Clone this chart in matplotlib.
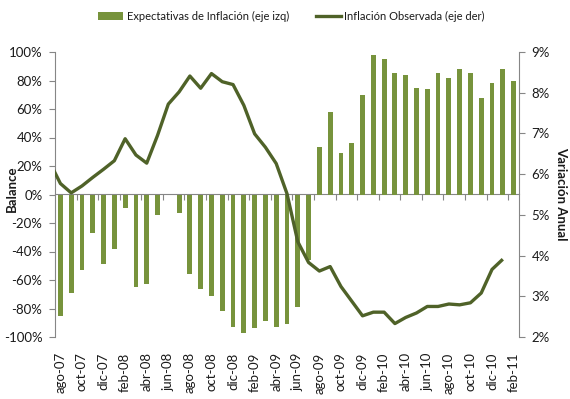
import numpy as np
import matplotlib
matplotlib.use("Agg")
import matplotlib.pyplot as plt
from matplotlib.patches import Patch
from matplotlib.lines import Line2D
from matplotlib.ticker import FuncFormatter, FixedLocator

# Months from jul-07 to feb-11
meses = ["jul-07", "ago-07", "sep-07", "oct-07", "nov-07", "dic-07",
         "ene-08", "feb-08", "mar-08", "abr-08", "may-08", "jun-08",
         "jul-08", "ago-08", "sep-08", "oct-08", "nov-08", "dic-08",
         "ene-09", "feb-09", "mar-09", "abr-09", "may-09", "jun-09",
         "jul-09", "ago-09", "sep-09", "oct-09", "nov-09", "dic-09",
         "ene-10", "feb-10", "mar-10", "abr-10", "may-10", "jun-10",
         "jul-10", "ago-10", "sep-10", "oct-10", "nov-10", "dic-10",
         "ene-11", "feb-11"]

# Balance of inflation expectations (%), ago-07 .. feb-11 (jun-08 not available)
expectativas = [-85, -69, -53, -27, -49, -38, -9.5, -65, -63, -14.5,
                np.nan, -13, -56, -66, -71, -82, -93, -97, -94, -89,
                -93, -91, -79, -46, 33, 58, 29, 36, 70, 98,
                95, 85, 84, 75, 74, 85, 82, 88, 85, 68,
                78, 88, 80]

# Observed annual inflation (%), jul-07 .. ene-11
inflacion = [6.30, 5.77, 5.54, 5.71, 5.92, 6.12, 6.33, 6.87, 6.47, 6.27,
             6.95, 7.72, 8.02, 8.41, 8.11, 8.47, 8.27, 8.20, 7.69, 6.99,
             6.66, 6.26, 5.52, 4.34, 3.83, 3.62, 3.73, 3.24, 2.88, 2.52,
             2.61, 2.61, 2.33, 2.48, 2.59, 2.75, 2.75, 2.81, 2.79, 2.84,
             3.08, 3.66, 3.91]

etiquetas = meses[1::2]

BAR_COLOR = "#77933C"
LINE_COLOR = "#4F6228"
AXIS_GRAY = "#868686"
TEXT_COLOR = "#1a1a1a"
FONT = ["Lato", "DejaVu Sans"]
plt.rcParams["font.family"] = FONT

fig = plt.figure(figsize=(5.7, 3.99), dpi=100)
ax = fig.add_axes([55 / 570, 1 - 337 / 399, 464 / 570, 285 / 399])

# category positions: ago-07 is slot 0, jul-07 sits just left of the axis
pos = np.arange(len(meses)) - 1
x_bar = pos[1:]
x_line = pos[:-1]

ax.bar(x_bar, expectativas, width=0.45, color=BAR_COLOR, zorder=2)
ax.set_xlim(-0.5, len(expectativas) - 0.5)
ax.set_ylim(-100, 100)
ax.set_yticks(np.arange(-100, 101, 20))
ax.yaxis.set_major_formatter(FuncFormatter(lambda v, p: f"{v:.0f}%"))
ax.tick_params(axis="y", length=4, width=0.8, color=AXIS_GRAY, pad=5,
               labelsize=9.5, labelcolor=TEXT_COLOR)

ax.set_xticks(x_bar[::2])
ax.set_xticklabels(etiquetas, rotation=90, fontsize=9.5, color=TEXT_COLOR)
ax.tick_params(axis="x", length=0, pad=11)

for s in ("top", "bottom", "right"):
    ax.spines[s].set_visible(False)
ax.spines["left"].set_color(AXIS_GRAY)
ax.spines["left"].set_linewidth(0.8)

# category axis drawn through the zero level
zero_axis = ax.secondary_xaxis(0.5)
zero_axis.xaxis.set_major_locator(FixedLocator(np.arange(1.5, len(expectativas) - 1, 2)))
zero_axis.tick_params(axis="x", direction="in", length=4, width=0.8,
                      color=AXIS_GRAY, labeltop=False, labelbottom=False)
for s in zero_axis.spines.values():
    s.set_color(AXIS_GRAY)
    s.set_linewidth(0.8)

# right axis: observed inflation
ax2 = ax.twinx()
ax2.plot(x_line, inflacion, color=LINE_COLOR, lw=2.4, solid_capstyle="butt")
ax2.set_ylim(2, 9)
ax2.set_yticks(np.arange(2, 10, 1))
ax2.yaxis.set_major_formatter(FuncFormatter(lambda v, p: f"{v:.0f}%"))
ax2.tick_params(axis="y", length=4, width=0.8, color=AXIS_GRAY, pad=5,
                labelsize=9.5, labelcolor=TEXT_COLOR)
for s in ("top", "bottom", "left"):
    ax2.spines[s].set_visible(False)
ax2.spines["right"].set_color(AXIS_GRAY)
ax2.spines["right"].set_linewidth(0.8)

fig.text(11.5 / 570, 1 - 189 / 399, "Balance", rotation=90, ha="center",
         va="center", fontsize=9.5, fontweight="bold", color=TEXT_COLOR)
fig.text(561 / 570, 1 - 194 / 399, "Variación Anual", rotation=270,
         ha="center", va="center", fontsize=9.5, fontweight="bold",
         color=TEXT_COLOR)

handles = [Patch(facecolor=BAR_COLOR, edgecolor="none"),
           Line2D([], [], color=LINE_COLOR, lw=2.4)]
fig.legend(handles, ["Expectativas de Inflación (eje izq)",
                     "Inflación Observada (eje der)"],
           loc="center", bbox_to_anchor=(291.5 / 570, 1 - 16 / 399), ncol=2,
           frameon=False, fontsize=8, handlelength=2.25, handleheight=0.7,
           handletextpad=0.3, columnspacing=2.4, labelcolor=TEXT_COLOR)

fig.savefig("out.png", dpi=100)
